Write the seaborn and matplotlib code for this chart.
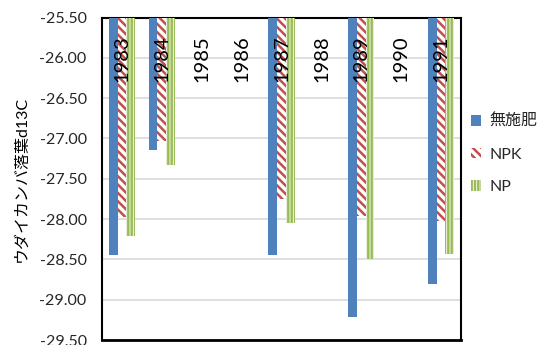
import matplotlib
matplotlib.use("Agg")
import matplotlib.pyplot as plt
from matplotlib.patches import Patch
from matplotlib.transforms import blended_transform_factory
import numpy as np
import pandas as pd
import seaborn as sns

years = ["1983", "1984", "1985", "1986", "1987", "1988", "1989", "1990", "1991"]
series = ["無施肥", "NPK", "NP"]
v_none = [-28.45, -27.14, np.nan, np.nan, -28.45, np.nan, -29.21, np.nan, -28.80]
v_npk = [-27.98, -27.03, np.nan, np.nan, -27.75, np.nan, -27.96, np.nan, -28.03]
v_np = [-28.21, -27.33, np.nan, np.nan, -28.05, np.nan, -28.50, np.nan, -28.43]
yticks = [-25.5, -26.0, -26.5, -27.0, -27.5, -28.0, -28.5, -29.0, -29.5]
ylabel = "ウダイカンバ落葉d13C"

colors = {"無施肥": "#4F81BD", "NPK": "#C0504D", "NP": "#9BBB59"}

sns.set_style("white")
plt.rcParams["font.family"] = ["Lato", "Noto Sans CJK JP", "DejaVu Sans"]
plt.rcParams["hatch.linewidth"] = 1.8

df = pd.DataFrame({
    "year": years * 3,
    "series": [s for s in series for _ in years],
    "value": v_none + v_npk + v_np,
})

fig = plt.figure(figsize=(5.42, 3.45), dpi=100)
ax = fig.add_axes([102 / 542, 1 - 340 / 345, 359 / 542, 322.5 / 345])

sns.barplot(data=df, x="year", y="value", hue="series", order=years,
            hue_order=series, palette=colors, width=0.66, legend=False,
            ax=ax, errorbar=None, zorder=3)

styles = {
    "無施肥": dict(fc=colors["無施肥"], ec=colors["無施肥"], hatch=None),
    "NPK": dict(fc="white", ec=colors["NPK"], hatch="\\\\\\\\"),
    "NP": dict(fc="white", ec=colors["NP"], hatch="|||||"),
}
for cont, s in zip(ax.containers, series):
    st = styles[s]
    for p in cont.patches:
        p.set_facecolor(st["fc"])
        p.set_edgecolor(st["ec"])
        p.set_linewidth(0)
        if st["hatch"]:
            p.set_hatch(st["hatch"])

ax.set_ylim(-29.5, -25.5)
ax.set_yticks(yticks)
ax.set_yticklabels([f"{t:.2f}" for t in yticks], fontsize=11.5)
ax.tick_params(axis="y", length=0, pad=11, colors="#262626")
ax.set_xticks([])
ax.set_xlabel("")
ax.set_xlim(-0.5, len(years) - 0.5)
ax.grid(axis="y", color="#D9D9D9", linewidth=1.2, zorder=0)
ax.set_axisbelow(True)
for sp in ax.spines.values():
    sp.set_visible(True)
    sp.set_color("black")
    sp.set_linewidth(1.5)
ax.spines["bottom"].set_linewidth(2)

trans = blended_transform_factory(ax.transData, ax.transAxes)
for i, y in enumerate(years):
    ax.text(i, 1 - 17.5 / 322.5, y, rotation=90, ha="center", va="top",
            fontsize=14.5, color="black", transform=trans, zorder=5)

ax.set_ylabel(ylabel, fontsize=11.5, color="black")
ax.yaxis.set_label_coords(-0.205, 0.5)

handles = [Patch(facecolor=styles[s]["fc"], edgecolor=styles[s]["ec"],
                 hatch=styles[s]["hatch"], linewidth=0) for s in series]
fig.legend(handles, series, loc="upper left",
           bbox_to_anchor=(471 / 542, 1 - 114 / 345), frameon=False,
           fontsize=11.5, handlelength=0.65, handleheight=0.65,
           handletextpad=0.5, labelspacing=1.15, borderpad=0,
           borderaxespad=0)

fig.savefig("out.png", dpi=100)
